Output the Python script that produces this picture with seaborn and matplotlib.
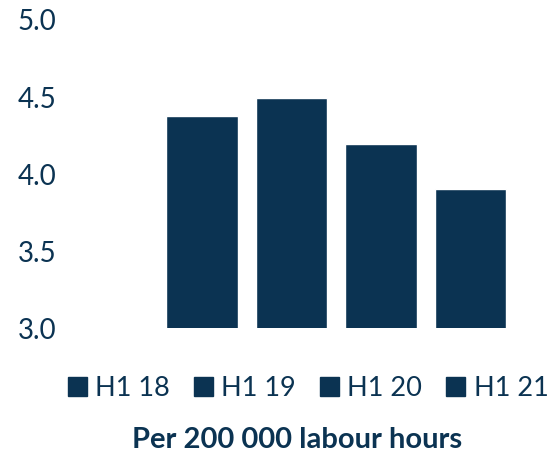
import matplotlib

matplotlib.use("Agg")
import matplotlib.pyplot as plt
import pandas as pd
import seaborn as sns
from matplotlib.patches import Patch

periods = ["H1 18", "H1 19", "H1 20", "H1 21"]
rates = [4.37, 4.49, 4.19, 3.90]
y_ticks = [3.0, 3.5, 4.0, 4.5, 5.0]
title = "Per 200 000 labour hours"

navy = "#0b3352"

sns.set_style("white")
plt.rcParams["font.family"] = ["Lato", "DejaVu Sans"]

df = pd.DataFrame({"period": periods, "rate": rates})

fig = plt.figure(figsize=(5.55, 4.56), dpi=100)
ax = fig.add_axes([70 / 555, 127 / 456, 475 / 555, 309 / 456])
sns.barplot(data=df, x="period", y="rate", color=navy, saturation=1, width=0.8, ax=ax)

ax.set_ylim(3.0, 5.0)
ax.set_xlim(-1.47, 3.83)
ax.set_yticks(y_ticks)
ax.set_yticklabels([f"{t:.1f}" for t in y_ticks], fontsize=20, color=navy)
ax.set_xticks([])
ax.tick_params(axis="y", length=0, pad=10)
ax.set_xlabel("")
ax.set_ylabel("")
sns.despine(ax=ax, left=True, bottom=True, top=True, right=True)

handles = [Patch(facecolor=navy, edgecolor=navy, label=p) for p in periods]
leg = fig.legend(handles=handles, loc="center", bbox_to_anchor=(308 / 555, 67 / 456), ncol=4,
                 frameon=False, fontsize=19.5, handlelength=0.7, handleheight=0.7,
                 handletextpad=0.3, columnspacing=0.9, borderaxespad=0, borderpad=0)
for t in leg.get_texts():
    t.set_color(navy)

fig.text(0.536, 16 / 456, title, ha="center", va="center", fontsize=21,
         fontweight="bold", color=navy)

fig.savefig("out.png", dpi=100)
